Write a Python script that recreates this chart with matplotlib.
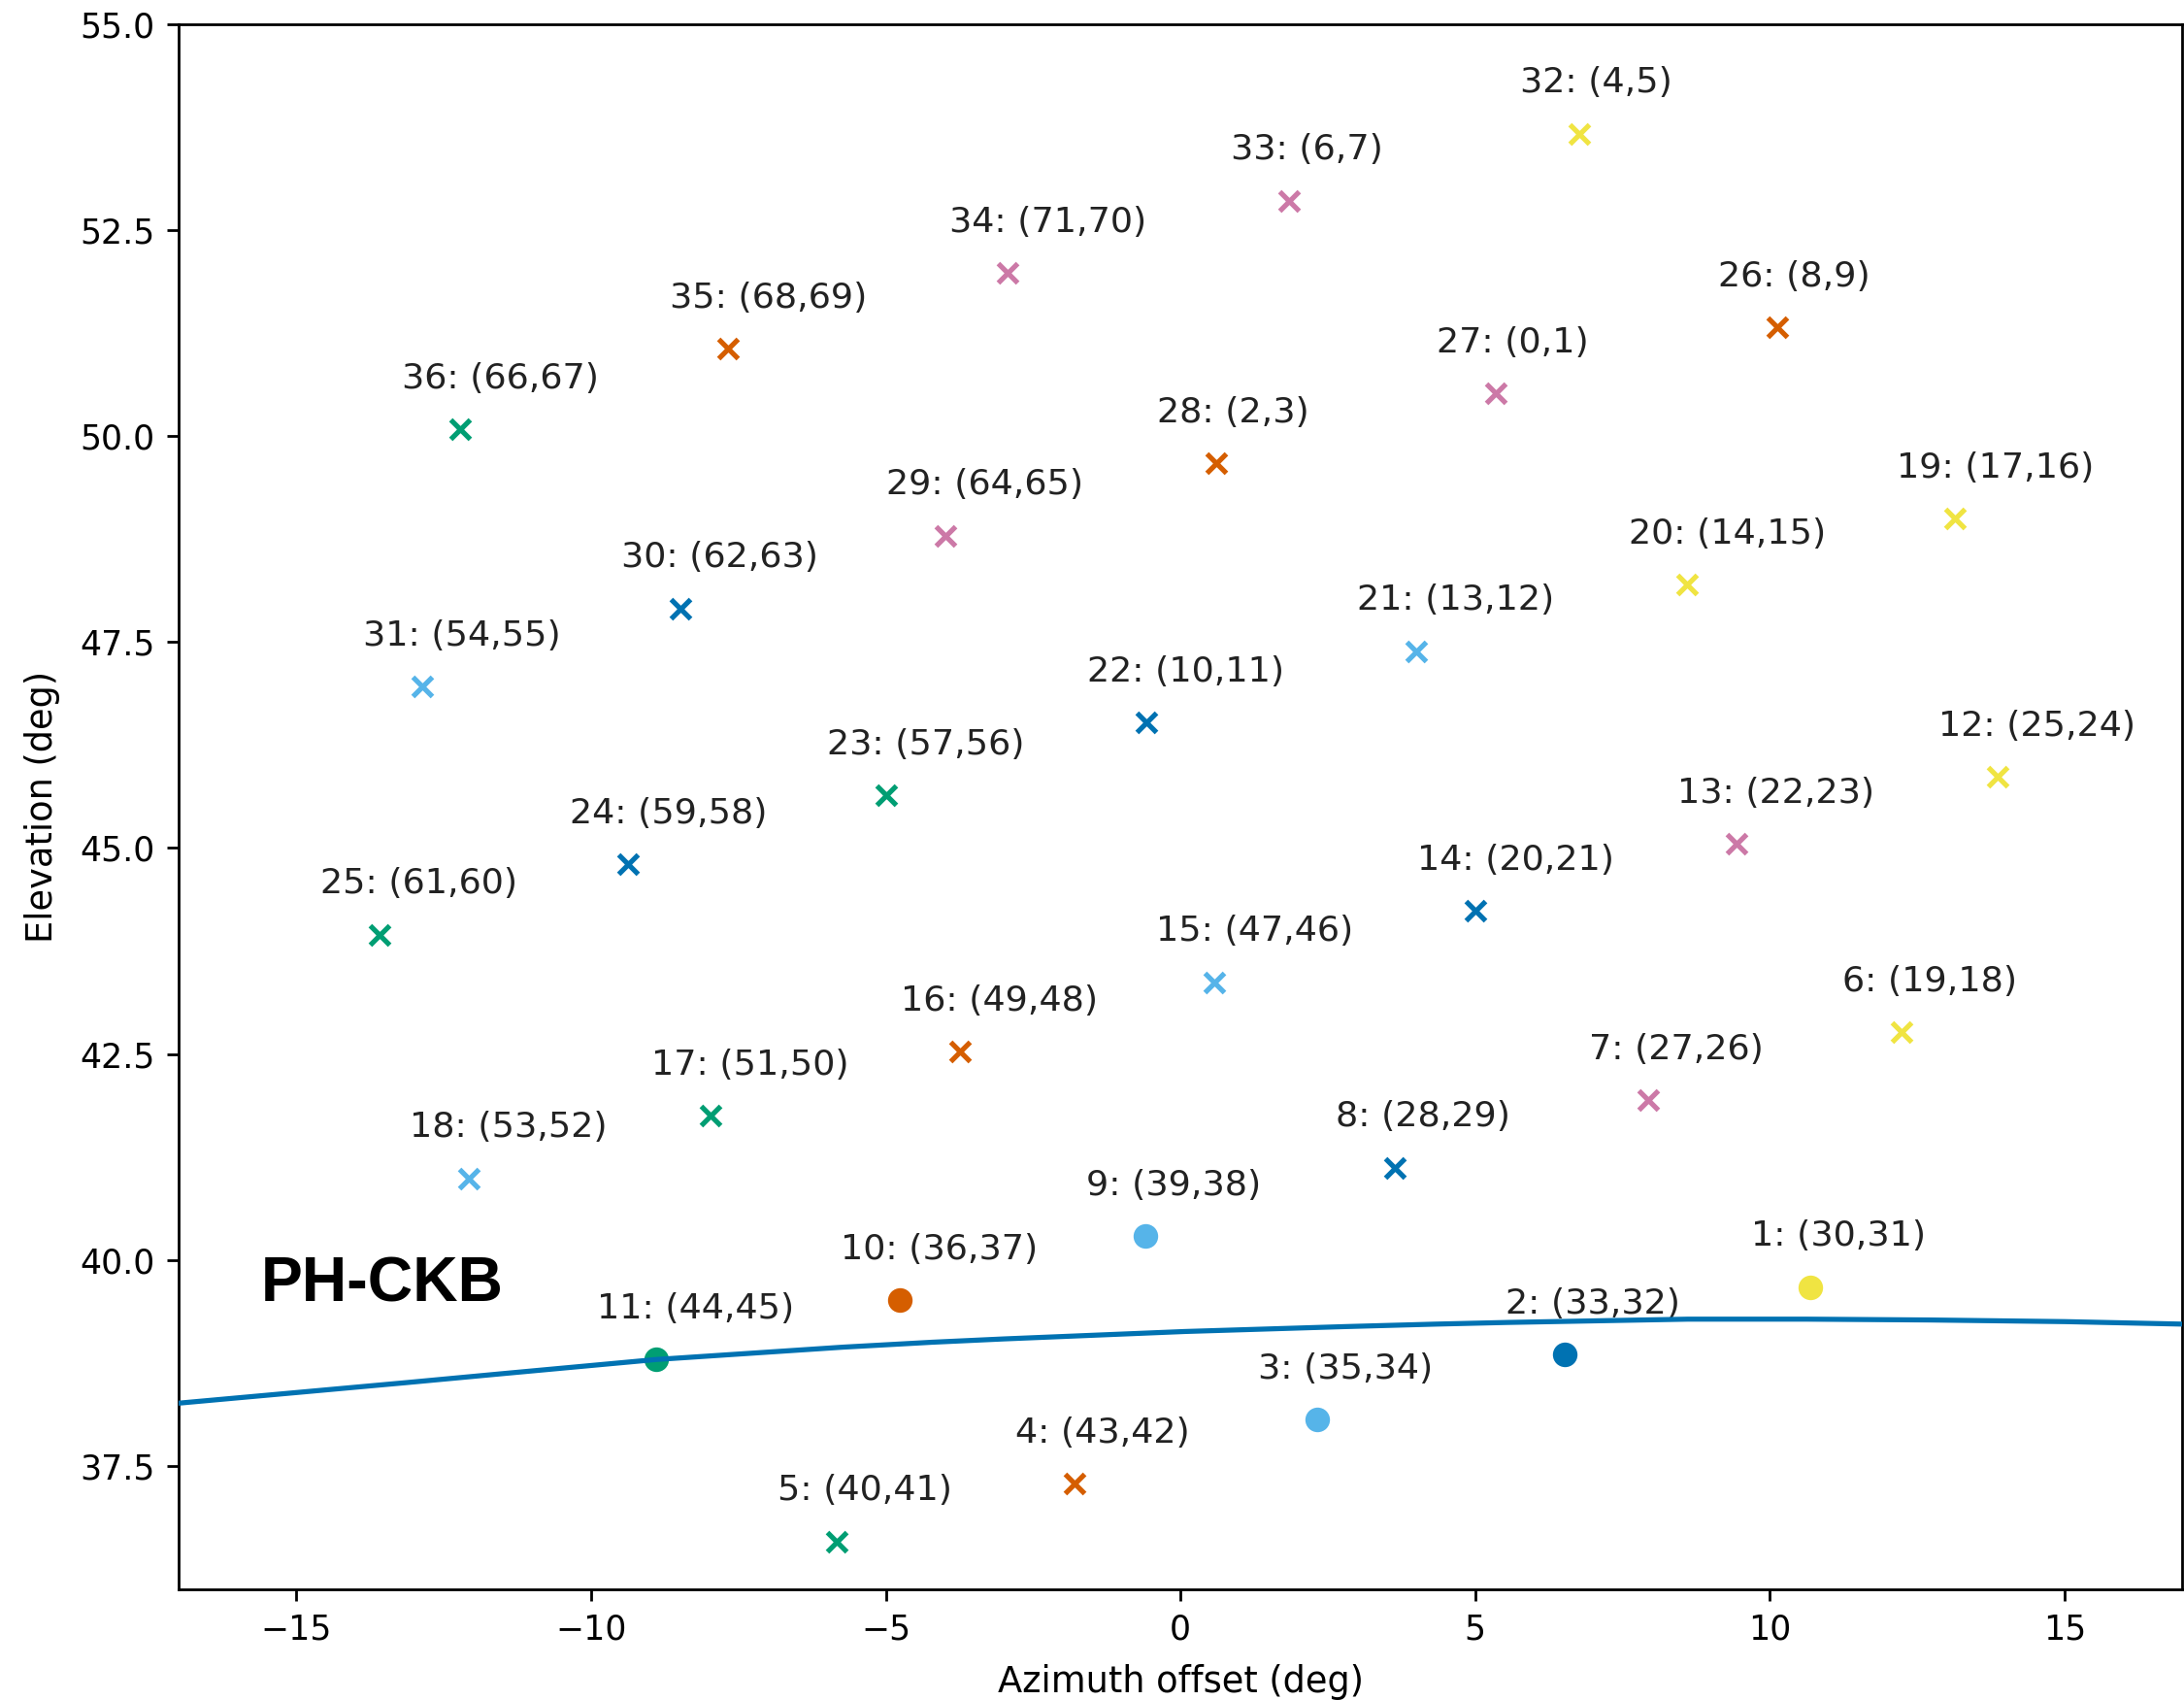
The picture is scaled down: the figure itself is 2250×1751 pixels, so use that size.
'''Posiciones de los haces en azimut/elevacion.'''
import matplotlib
matplotlib.use('Agg')
import matplotlib.pyplot as plt

# paleta Okabe-Ito
AZUL = '#0072B2'
CELESTE = '#56B4E9'
NARANJA = '#D55E00'
VERDE = '#009E73'
ROSA = '#CC79A7'
AMARILLO = '#F0E442'

numeros = list(range(1, 37))
canales = ['(30,31)', '(33,32)', '(35,34)', '(43,42)', '(40,41)', '(19,18)',
           '(27,26)', '(28,29)', '(39,38)', '(36,37)', '(44,45)', '(25,24)',
           '(22,23)', '(20,21)', '(47,46)', '(49,48)', '(51,50)', '(53,52)',
           '(17,16)', '(14,15)', '(13,12)', '(10,11)', '(57,56)', '(59,58)',
           '(61,60)', '(8,9)', '(0,1)', '(2,3)', '(64,65)', '(62,63)',
           '(54,55)', '(4,5)', '(6,7)', '(71,70)', '(68,69)', '(66,67)']
azimut = [10.69, 6.52, 2.32, -1.80, -5.83, 12.23,
          7.94, 3.64, -0.60, -4.77, -8.90, 13.86,
          9.43, 5.01, 0.58, -3.74, -7.98, -12.08,
          13.15, 8.60, 4.00, -0.58, -5.00, -9.37,
          -13.59, 10.13, 5.35, 0.61, -3.99, -8.49,
          -12.87, 6.76, 1.85, -2.93, -7.67, -12.22]
elevacion = [39.67, 38.85, 38.06, 37.28, 36.58, 42.76,
             41.94, 41.12, 40.29, 39.51, 38.79, 45.86,
             45.05, 44.24, 43.37, 42.53, 41.75, 40.99,
             49.00, 48.20, 47.39, 46.52, 45.64, 44.80,
             43.95, 51.32, 50.52, 49.67, 48.79, 47.91,
             46.96, 53.67, 52.86, 51.98, 51.06, 50.08]
colores = [AMARILLO, AZUL, CELESTE, NARANJA, VERDE, AMARILLO,
           ROSA, AZUL, CELESTE, NARANJA, VERDE, AMARILLO,
           ROSA, AZUL, CELESTE, NARANJA, VERDE, CELESTE,
           AMARILLO, AMARILLO, CELESTE, AZUL, VERDE, AZUL,
           VERDE, NARANJA, ROSA, NARANJA, ROSA, AZUL,
           CELESTE, AMARILLO, ROSA, ROSA, NARANJA, VERDE]
# haces marcados con circulo, el resto con cruz
circulos = [1, 2, 3, 9, 10, 11]

# trayectoria del satelite
tray_az = [-17.0, -13.13, -11.48, -8.90, -5.73, -4.21, -3.0, 0.07,
           2.81, 4.34, 5.54, 8.61, 10.63, 12.72, 15.02, 17.0]
tray_el = [38.26, 38.51, 38.62, 38.79, 38.94, 39.00, 39.04, 39.13,
           39.19, 39.22, 39.24, 39.28, 39.28, 39.27, 39.25, 39.22]


def grafica_haces():
    fig = plt.figure(figsize=(9, 7.004), dpi=250)
    ax = fig.add_axes([0.0818, 0.0651, 0.9174, 0.9206])

    for n, c, x, y, col in zip(numeros, canales, azimut, elevacion, colores):
        if n in circulos:
            ax.plot(x, y, 'o', color=col, ms=7.3, mew=0)
        else:
            ax.plot(x, y, 'x', color=col, ms=6, mew=1.5)
        ax.text(x - 1, y + 0.5, f'{n}: {c}', fontsize=10.5, color='#222222')

    ax.plot(tray_az, tray_el, color=AZUL, lw=1.5, zorder=3)

    ax.text(-15.6, 39.5, 'PH-CKB', fontsize=18.5, fontweight='bold',
            family='Liberation Sans')

    ax.set_xlim(-17, 17)
    ax.set_ylim(36, 55)
    ax.set_yticks([37.5, 40.0, 42.5, 45.0, 47.5, 50.0, 52.5, 55.0])
    ax.tick_params(labelsize=10)
    ax.set_xlabel('Azimuth offset (deg)', fontsize=10.6, labelpad=5.5)
    ax.set_ylabel('Elevation (deg)', fontsize=10.6, labelpad=6)

    fig.savefig('out.png', dpi=250)


if __name__ == '__main__':
    grafica_haces()
